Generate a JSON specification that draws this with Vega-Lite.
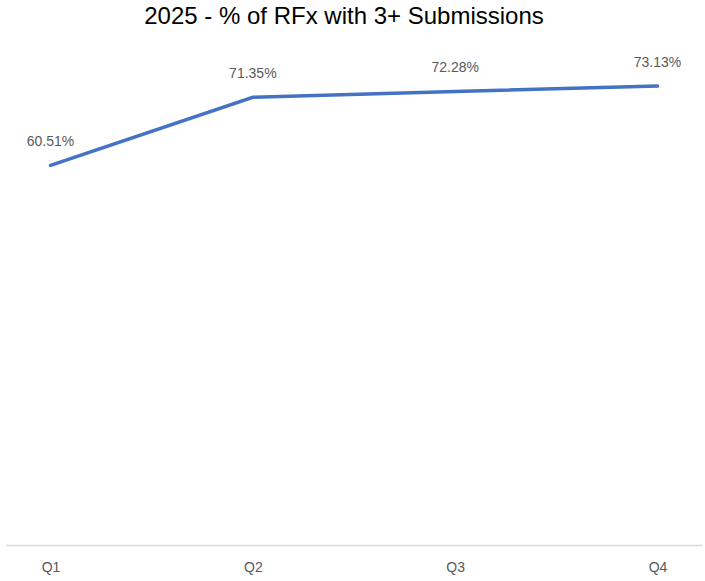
{
  "$schema": "https://vega.github.io/schema/vega-lite/v6.json",
  "width": 696,
  "height": 502,
  "autosize": "none",
  "padding": {"left": 6, "top": 43, "right": 3, "bottom": 36},
  "background": "white",
  "title": {
    "text": "2025 - % of RFx with 3+ Submissions",
    "font": "Liberation Sans",
    "fontSize": 24,
    "fontWeight": "normal",
    "color": "#000000",
    "anchor": "middle",
    "dx": -10,
    "offset": 14
  },
  "data": {
    "values": [
      {"quarter": "Q1", "pct": 0.6051},
      {"quarter": "Q2", "pct": 0.7135},
      {"quarter": "Q3", "pct": 0.7228},
      {"quarter": "Q4", "pct": 0.7313}
    ]
  },
  "config": {"view": {"stroke": null}},
  "encoding": {
    "x": {
      "field": "quarter",
      "type": "ordinal",
      "scale": {"type": "point", "padding": 0.22},
      "axis": {
        "title": null,
        "labelAngle": 0,
        "labelFont": "Liberation Sans",
        "labelFontSize": 14,
        "labelColor": "#595959",
        "labelPadding": 15,
        "ticks": false,
        "domainColor": "#d9d9d9",
        "domainWidth": 1.5
      }
    },
    "y": {
      "field": "pct",
      "type": "quantitative",
      "scale": {"domain": [0, 0.8], "nice": false, "zero": true},
      "axis": null
    }
  },
  "layer": [
    {
      "mark": {"type": "line", "color": "#4472C4", "strokeWidth": 3.5, "strokeCap": "round"}
    },
    {
      "mark": {"type": "text", "dy": -23, "font": "Liberation Sans", "fontSize": 14, "color": "#595959", "baseline": "middle", "align": "center"},
      "encoding": {
        "text": {"field": "pct", "type": "quantitative", "format": ".2%"}
      }
    }
  ]
}
